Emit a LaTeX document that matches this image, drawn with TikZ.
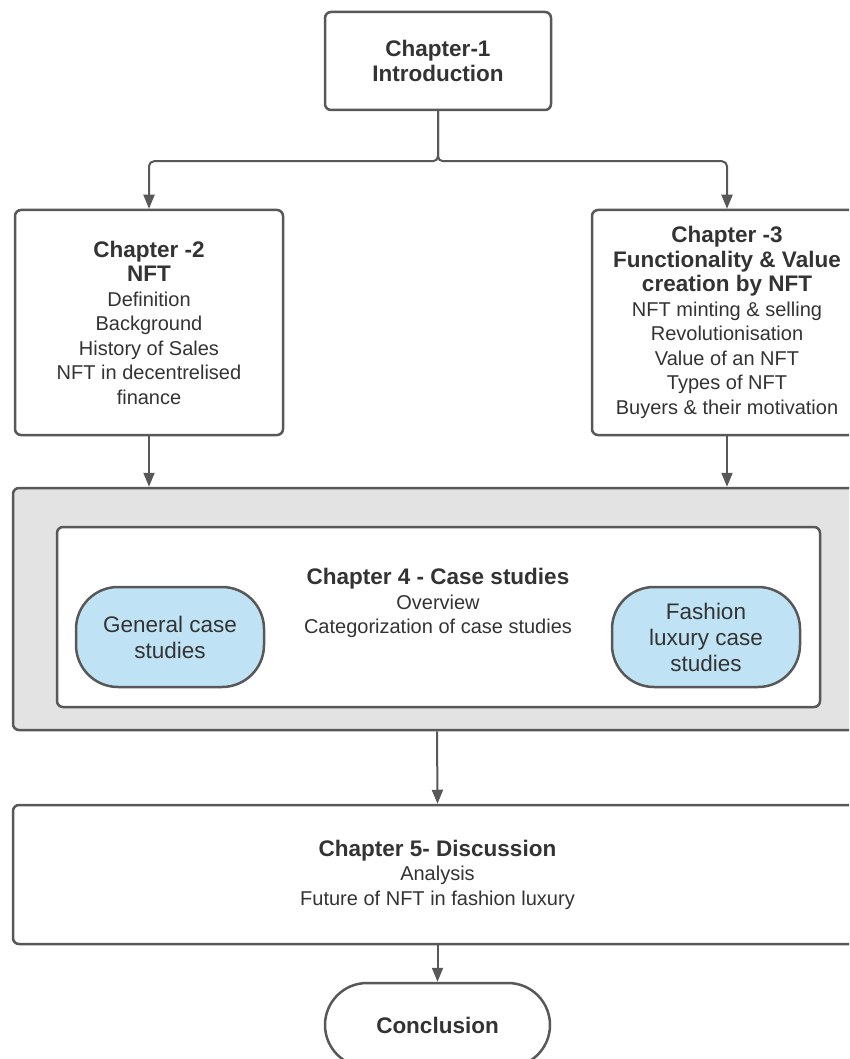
\documentclass[tikz,border=0pt]{standalone}
\usepackage{fontspec}
\setmainfont{Liberation Sans}
\usetikzlibrary{arrows.meta}
\definecolor{linegray}{RGB}{88,88,88}
\definecolor{boxgray}{RGB}{227,227,227}
\definecolor{caseblue}{RGB}{191,227,245}
\definecolor{textgray}{RGB}{51,51,51}
\newcommand{\chead}{\fontsize{22.5}{25.5}\selectfont\bfseries}
\newcommand{\cbody}{\fontsize{20}{24.5}\selectfont\mdseries}

\begin{document}
\begin{tikzpicture}[x=1pt,y=-1pt,
    chbox/.style={draw=linegray,line width=2.5pt,rounded corners=6pt,fill=white,text=textgray,align=center,font=\cbody},
    casebox/.style={chbox,fill=caseblue,rounded corners=42pt,minimum width=188pt,minimum height=100pt,font=\fontsize{22.5}{26}\selectfont},
    conn/.style={draw=linegray,line width=2pt,-{Triangle[length=14pt,width=11pt]}}]
  % thesis chapter outline
  \clip (0,0) rectangle (849,1059);
  \fill[white] (0,0) rectangle (849,1059);
  \node[chbox,minimum width=226pt,minimum height=98pt] (ch1) at (438,61) {\chead Chapter-1\\\chead Introduction};
  \node[chbox,minimum width=268pt,minimum height=225pt] (ch2) at (149,322.5)
    {\chead Chapter -2\\\chead NFT\\Definition\\Background\\History of Sales\\NFT in decentrelised\\finance};
  \node[chbox,minimum width=270pt,minimum height=225pt] (ch3) at (727,322.5)
    {\chead Chapter -3\\\chead Functionality \& Value\\\chead creation by NFT\\NFT minting \& selling\\Revolutionisation\\Value of an NFT\\Types of NFT\\Buyers \& their motivation};
  % case studies block
  \node[chbox,fill=boxgray,minimum width=848pt,minimum height=242pt] (ch4) at (437,609) {};
  \node[chbox,minimum width=763pt,minimum height=180pt] (inner) at (438.5,617) {};
  \node[text=textgray,align=center,font=\cbody] (ch4txt) at (438,603)
    {\chead Chapter 4 - Case studies\\Overview\\Categorization of case studies};
  \node[casebox] (gen) at (170,637) {General case\\studies};
  \node[casebox] (lux) at (706,637) {Fashion\\luxury case\\studies};
  \node[chbox,minimum width=849pt,minimum height=139pt] (ch5) at (437.5,874.5)
    {\chead Chapter 5- Discussion\\Analysis\\Future of NFT in fashion luxury};
  \node[chbox,rounded corners=42pt,minimum width=225pt,minimum height=84pt] (concl) at (437.5,1025) {\chead Conclusion};
  \draw[conn,rounded corners=5pt] (ch1.south) -- ++(0,50) -| (ch2.north);
  \draw[conn,rounded corners=5pt] (ch1.south) -- ++(0,50) -| (ch3.north);
  \draw[conn] (ch2.south) -- (ch2.south |- ch4.north);
  \draw[conn] (ch3.south) -- (ch3.south |- ch4.north);
  \draw[conn] (ch4.south) -- (ch5.north);
  \draw[conn] (ch5.south) -- (concl.north);
\end{tikzpicture}
\end{document}
